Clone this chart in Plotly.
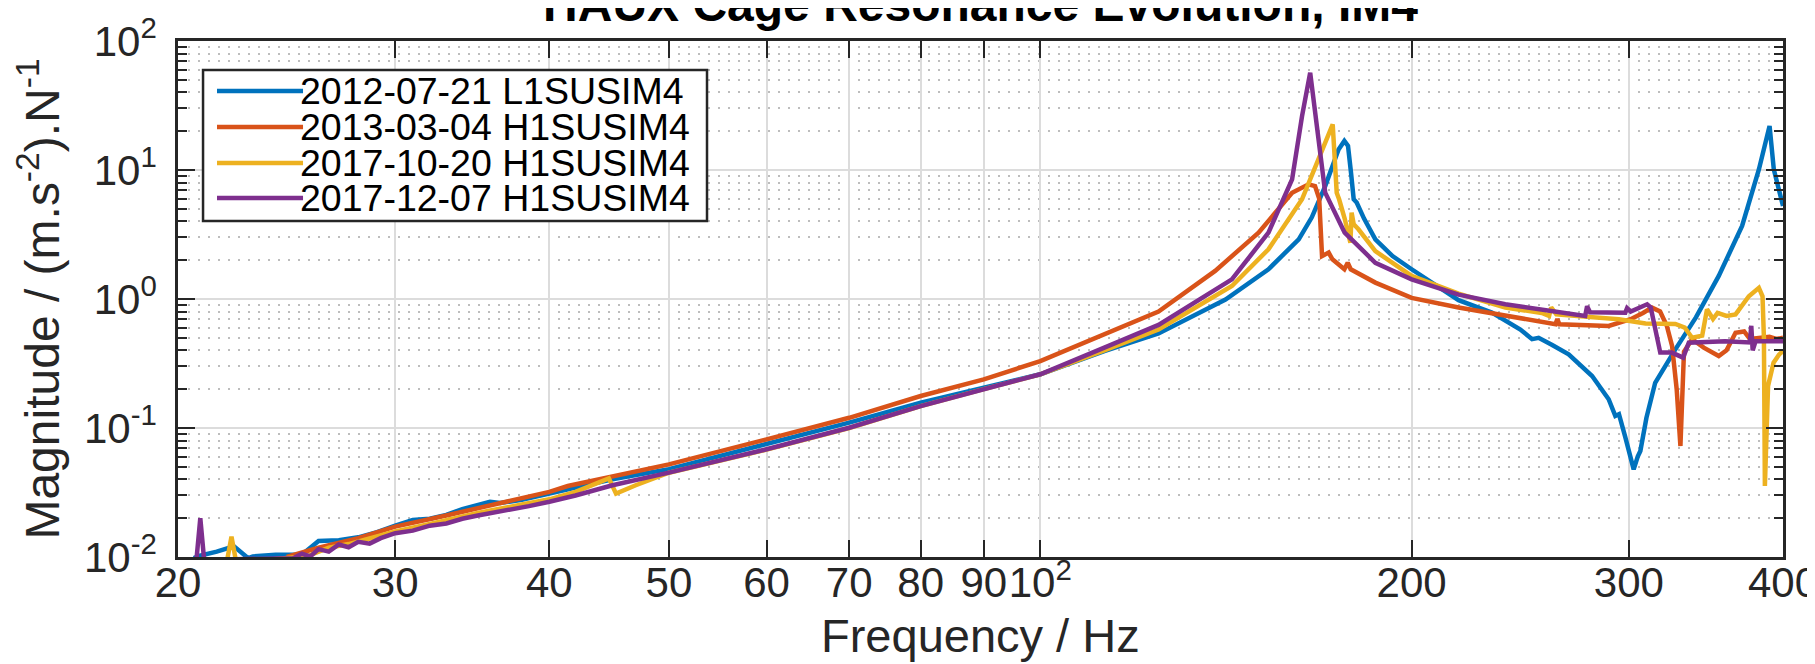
import math
import plotly.graph_objects as go

# ---------------- data ----------------
series_names = ["2012-07-21 L1SUSIM4", "2013-03-04 H1SUSIM4",
                "2017-10-20 H1SUSIM4", "2017-12-07 H1SUSIM4"]
series_colors = ["#0072BD", "#D95319", "#EDB120", "#7E2F8E"]

f_blue = [20.6, 20.8, 21.5, 22.2, 22.8, 23.0, 24.0, 24.6, 25.2, 26.0, 27.0, 28.0, 29.0, 30.0,
          31.0, 32.0, 33.0, 34.0, 35.0, 35.8, 36.5, 38.0, 40.0, 45.0, 50.0, 60.0, 70.0, 80.0,
          90.0, 100.0, 112.7, 124.7, 141.3, 153.1, 162.0, 166.0, 170.2, 174.5, 176.4, 177.6,
          178.6, 179.5, 180.5, 183.0, 186.9, 193.0, 200.0, 210.0, 218.3, 232.3, 245.0, 250.4,
          253.5, 260.0, 268.1, 280.1, 288.9, 292.5, 294.5, 298.0, 302.7, 305.0, 306.5, 310.0,
          315.1, 327.2, 340.0, 354.8, 370.6, 382.4, 390.1, 393.2, 397.0, 400.0]
m_blue = [0.0098, 0.0102, 0.0110, 0.0121, 0.0098, 0.0101, 0.0104, 0.0105, 0.0104, 0.0133,
          0.0135, 0.0142, 0.0156, 0.0175, 0.0194, 0.0198, 0.0212, 0.0235, 0.0252, 0.0268,
          0.0262, 0.0278, 0.031, 0.040, 0.048, 0.0746, 0.110, 0.157, 0.205, 0.261, 0.395,
          0.54, 0.99, 1.70, 2.9, 4.3, 7.5, 14.4, 16.8, 15.4, 9.5, 5.93, 5.6, 4.2, 2.9, 2.15,
          1.70, 1.25, 0.98, 0.784, 0.58, 0.488, 0.50, 0.44, 0.372, 0.253, 0.167, 0.124, 0.128,
          0.085, 0.0478, 0.060, 0.0664, 0.12, 0.224, 0.407, 0.72, 1.51, 3.68, 10.1, 21.9, 10.1,
          7.0, 5.26]

f_orange = [24.5, 26.0, 28.0, 30.0, 33.0, 36.0, 40.0, 41.4, 45.0, 50.0, 60.0, 70.0, 80.0, 90.0,
            100.0, 112.7, 124.7, 138.6, 150.3, 160.0, 165.0, 167.0, 168.3, 169.2, 171.3, 172.5,
            174.5, 176.4, 177.5, 178.5, 186.9, 200.0, 218.3, 238.2, 261.6, 262.5, 263.5, 288.9,
            301.0, 308.0, 313.2, 318.0, 322.0, 325.2, 328.0, 330.3, 332.5, 337.6, 345.0, 354.8,
            360.0, 366.1, 372.0, 376.0, 383.0, 390.0, 395.0, 400.0]
m_orange = [0.0100, 0.0118, 0.0140, 0.0172, 0.0210, 0.0255, 0.0320, 0.0355, 0.042, 0.0522,
            0.0817, 0.120, 0.177, 0.238, 0.330, 0.532, 0.80, 1.65, 3.27, 6.67, 7.74, 7.5, 6.0,
            2.15, 2.29, 2.03, 1.85, 1.70, 1.91, 1.70, 1.34, 1.02, 0.86, 0.738, 0.637, 0.70,
            0.637, 0.618, 0.697, 0.78, 0.857, 0.80, 0.62, 0.432, 0.20, 0.0725, 0.39, 0.488,
            0.42, 0.361, 0.40, 0.548, 0.56, 0.49, 0.50, 0.51, 0.49, 0.50]

f_yellow = [21.9, 22.1, 22.3, 25.5, 26.5, 27.5, 28.5, 30.0, 32.0, 35.0, 38.0, 40.0, 42.0, 44.7,
            45.3, 47.0, 50.0, 60.0, 70.0, 80.0, 90.0, 100.0, 112.7, 124.7, 143.0, 153.1, 163.0,
            170.2, 172.6, 173.9, 174.7, 176.5, 178.4, 178.8, 179.5, 181.1, 186.9, 200.0, 218.3,
            238.2, 255.0, 258.5, 259.5, 262.0, 280.1, 294.4, 309.5, 327.2, 333.0, 337.6, 344.0,
            347.1, 351.0, 354.0, 360.0, 366.1, 375.3, 382.4, 385.0, 386.0, 386.7, 389.0, 393.0,
            397.0, 400.0]
m_yellow = [0.0090, 0.0144, 0.0090, 0.0102, 0.0118, 0.0126, 0.0138, 0.0158, 0.0180, 0.0220,
            0.0255, 0.0280, 0.0320, 0.0407, 0.031, 0.036, 0.045, 0.068, 0.100, 0.148, 0.200,
            0.260, 0.40, 0.58, 1.26, 2.43, 5.93, 16.3, 22.6, 6.67, 5.9, 4.2, 2.73, 4.67, 3.8,
            3.47, 2.35, 1.51, 1.10, 0.857, 0.78, 0.74, 0.86, 0.76, 0.716, 0.697, 0.647, 0.64,
            0.60, 0.501, 0.52, 0.832, 0.70, 0.78, 0.74, 0.76, 1.05, 1.22, 1.05, 0.50, 0.0355,
            0.212, 0.321, 0.37, 0.395]

f_purple = [20.7, 20.85, 21.0, 24.8, 25.2, 25.6, 26.0, 26.5, 27.0, 27.5, 28.0, 28.6, 29.2, 30.0,
            31.0, 32.0, 33.0, 34.0, 35.0, 36.0, 37.0, 38.5, 40.0, 42.0, 45.0, 50.0, 60.0, 70.0,
            80.0, 90.0, 100.0, 112.7, 124.7, 143.0, 153.1, 160.0, 163.0, 165.5, 167.1, 170.2,
            176.5, 186.9, 200.0, 218.3, 238.2, 260.0, 276.5, 277.5, 279.0, 298.0, 299.0, 301.0,
            310.4, 312.5, 315.0, 318.1, 325.0, 332.0, 335.5, 359.0, 376.0, 377.0, 378.0, 380.0,
            400.0]
m_purple = [0.0095, 0.0200, 0.0095, 0.0098, 0.0106, 0.0101, 0.0115, 0.0110, 0.0125, 0.0119,
            0.0131, 0.0127, 0.0140, 0.0153, 0.0160, 0.0175, 0.0182, 0.0198, 0.0210, 0.0220,
            0.0232, 0.0248, 0.0268, 0.030, 0.036, 0.0451, 0.0684, 0.1005, 0.148, 0.1995, 0.261,
            0.42, 0.63, 1.42, 3.27, 8.47, 26.2, 56.8, 26.0, 6.67, 3.27, 1.91, 1.42, 1.08, 0.91,
            0.807, 0.738, 0.88, 0.79, 0.784, 0.85, 0.80, 0.91, 0.86, 0.582, 0.384, 0.384, 0.351,
            0.458, 0.47, 0.46, 0.62, 0.40, 0.47, 0.47]

x_tick_vals = [20, 30, 40, 50, 60, 70, 80, 90, 100, 200, 300, 400]
x_tick_text = ["20", "30", "40", "50", "60", "70", "80", "90", "10<sup>2</sup>", "200", "300", "400"]
y_tick_vals = [0.01, 0.1, 1, 10, 100]
y_tick_text = ["10<sup>-2</sup>", "10<sup>-1</sup>", "10<sup>0</sup>", "10<sup>1</sup>", "10<sup>2</sup>"]
y_minor_vals = [d * 10.0 ** e for e in range(-2, 2) for d in range(2, 10)]

title_text = "HAUX Cage Resonance Evolution, IM4"
x_title = "Frequency / Hz"
y_title = "Magnitude / (m.s<sup>-2</sup>).N<sup>-1</sup>"

# ---------------- figure ----------------
AX = "#262626"
FONT = "Liberation Sans, Arial, Helvetica, sans-serif"

fig = go.Figure()
all_f = [f_blue, f_orange, f_yellow, f_purple]
all_m = [m_blue, m_orange, m_yellow, m_purple]
for name, col, fx, my in zip(series_names, series_colors, all_f, all_m):
    fig.add_trace(go.Scatter(x=fx, y=my, mode="lines", name=name,
                             line=dict(color=col, width=4.5), showlegend=False))

fig.update_layout(
    width=1815, height=664,
    margin=dict(l=170, r=40, t=33, b=115, autoexpand=False),
    paper_bgcolor="white", plot_bgcolor="white",
    font=dict(family=FONT, color=AX),
    showlegend=False,
    title=dict(text="<b>" + title_text + "</b>", font=dict(size=48, color="#000000"),
               x=0.5, xref="paper", xanchor="center",
               y=0.981, yref="container", yanchor="bottom"),
)

fig.update_xaxes(
    type="log", range=[math.log10(20), math.log10(400)], automargin=False,
    tickvals=x_tick_vals, ticktext=x_tick_text, tickangle=0, ticklabeloverflow="allow",
    ticks="inside", ticklen=17, tickwidth=2, tickcolor=AX,
    showline=True, linecolor=AX, linewidth=2.5, mirror="allticks",
    showgrid=True, gridcolor="#dcdcdc", gridwidth=2, zeroline=False,
    tickfont=dict(size=42, color=AX), ticklabelstandoff=-13,
)
fig.update_yaxes(
    type="log", range=[-2, 2], automargin=False,
    tickvals=y_tick_vals, ticktext=y_tick_text,
    ticks="inside", ticklen=17, tickwidth=2, tickcolor=AX,
    showline=True, linecolor=AX, linewidth=2.5, mirror="allticks",
    showgrid=True, gridcolor="#dcdcdc", gridwidth=2, zeroline=False,
    tickfont=dict(size=42, color=AX), ticklabelstandoff=10,
    minor=dict(tickvals=y_minor_vals, ticks="inside", ticklen=9, tickwidth=2,
               tickcolor=AX, showgrid=True, gridcolor="#bdbdbd", gridwidth=2,
               griddash="2px,8px"),
    title=dict(text=y_title, font=dict(size=48, color=AX), standoff=10),
)

# x-axis title placed as text below the tick labels
fig.add_annotation(xref="paper", yref="paper", x=0.5, y=-0.153, xanchor="center",
                   yanchor="middle", text=x_title, showarrow=False,
                   font=dict(size=47, color=AX))

# ---------------- legend (box drawn to match the reference layout) ----------------
lx0, lx1, ly0, ly1 = 0.0156, 0.3296, 0.6512, 0.9438
fig.add_shape(type="rect", xref="paper", yref="paper", x0=lx0, x1=lx1, y0=ly0, y1=ly1,
              line=dict(color=AX, width=2.5), fillcolor="white", layer="above")
row_y = [0.9031, 0.8333, 0.7636, 0.6957]
for name, col, yy in zip(series_names, series_colors, row_y):
    fig.add_shape(type="line", xref="paper", yref="paper", x0=0.0243, x1=0.0779, y0=yy, y1=yy,
                  line=dict(color=col, width=4.5), layer="above")
    fig.add_annotation(xref="paper", yref="paper", x=0.0745, y=yy, xanchor="left",
                       yanchor="middle", text=name, showarrow=False, height=36,
                       valign="middle", font=dict(size=37.5, color="#000000"))

fig.write_html("out.html")
